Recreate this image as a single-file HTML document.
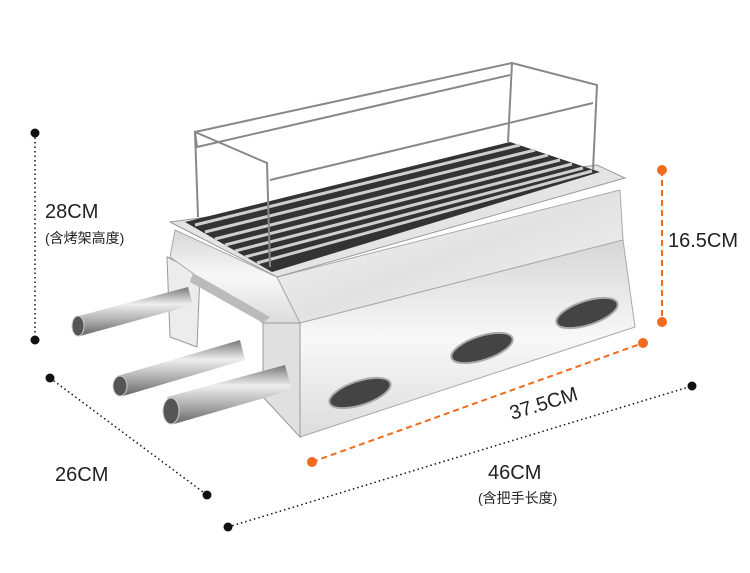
<!DOCTYPE html>
<html><head><meta charset="utf-8"><style>
body{margin:0;background:#fff;width:750px;height:568px;overflow:hidden;font-family:"Liberation Sans","Noto Sans CJK SC",sans-serif}
</style></head><body>
<svg width="750" height="568" viewBox="0 0 750 568" xmlns="http://www.w3.org/2000/svg">
<defs>
<linearGradient id="m" x1="0" y1="0" x2="1" y2="1"><stop offset="0" stop-color="#f8f8f8"/><stop offset=".5" stop-color="#e2e2e2"/><stop offset="1" stop-color="#f6f6f6"/></linearGradient>
<linearGradient id="m2" x1="0" y1="0" x2="0" y2="1"><stop offset="0" stop-color="#d6d6d6"/><stop offset=".5" stop-color="#f8f8f8"/><stop offset="1" stop-color="#dcdcdc"/></linearGradient>
<linearGradient id="t" x1="0" y1="0" x2="0" y2="1"><stop offset="0" stop-color="#777"/><stop offset=".35" stop-color="#eee"/><stop offset=".7" stop-color="#aaa"/><stop offset="1" stop-color="#666"/></linearGradient>
</defs>
<g stroke="#111" stroke-width="1.5" stroke-dasharray="1.5 3" fill="none">
<line x1="35" y1="133" x2="35" y2="340"/>
<line x1="50" y1="378" x2="207" y2="495"/>
<line x1="228" y1="527" x2="692" y2="386"/>
</g>
<g fill="#111"><circle cx="35" cy="133" r="4.5"/><circle cx="35" cy="340" r="4.5"/><circle cx="50" cy="378" r="4.5"/><circle cx="207" cy="495" r="4.5"/><circle cx="228" cy="527" r="4.5"/><circle cx="692" cy="386" r="4.5"/></g>
<g stroke="#f26b1d" stroke-width="2" stroke-dasharray="6 4" fill="none">
<line x1="662" y1="170" x2="662" y2="322"/>
<line x1="312" y1="462" x2="643" y2="343"/>
</g>
<g fill="#f26b1d"><circle cx="662" cy="170" r="5"/><circle cx="662" cy="322" r="5"/><circle cx="312" cy="462" r="5"/><circle cx="643" cy="343" r="5"/></g>
<polygon points="167,257 200,273 197,347 170,337" fill="#ececec" stroke="#999"/>
<polygon points="175,230 277,277 300,323 263,323 170,257" fill="url(#m2)" stroke="#aaa"/>
<polygon points="277,277 620,190 623,240 300,323" fill="url(#m)" stroke="#aaa"/>
<polygon points="300,323 623,240 635,327 300,437" fill="url(#m2)" stroke="#aaa"/>
<polygon points="263,323 300,323 300,437 263,397" fill="#e0e0e0" stroke="#999"/>
<polygon points="193,273 270,317 263,323 190,282" fill="#bbb"/>
<polygon points="170,222 597,165 625,178 277,277" fill="#e4e4e4" stroke="#999"/>
<polygon points="185,222 510,142 600,172 272,272" fill="#333"/>
<g stroke="#cfcfcf" stroke-width="3">
<line x1="195" y1="225" x2="520" y2="145"/><line x1="205" y1="232" x2="535" y2="150"/><line x1="215" y1="239" x2="548" y2="155"/><line x1="225" y1="245" x2="560" y2="160"/><line x1="235" y1="251" x2="572" y2="164"/><line x1="245" y1="257" x2="583" y2="168"/><line x1="257" y1="263" x2="592" y2="171"/>
</g>
<g stroke="#888" stroke-width="2" fill="none">
<polyline points="198,217 195,132 267,163 270,267"/>
<polyline points="195,132 197,147 510,75"/>
<polyline points="508,142 512,63 597,85 593,170"/>
<line x1="270" y1="180" x2="593" y2="103"/>
<line x1="195" y1="132" x2="512" y2="63"/>
</g>
<g fill="#444" stroke="#aaa" stroke-width="2">
<ellipse cx="360" cy="393" rx="32" ry="12" transform="rotate(-18 360 393)"/>
<ellipse cx="482" cy="348" rx="32" ry="12" transform="rotate(-18 482 348)"/>
<ellipse cx="587" cy="313" rx="32" ry="12" transform="rotate(-18 587 313)"/>
</g>
<g>
<polygon points="75,317 188,287 193,305 80,336" fill="url(#t)"/>
<ellipse cx="78" cy="326" rx="6" ry="10" fill="#555" stroke="#ccc"/>
<polygon points="117,376 240,340 245,360 123,396" fill="url(#t)"/>
<ellipse cx="120" cy="386" rx="7" ry="10" fill="#555" stroke="#ccc"/>
<polygon points="167,397 285,365 292,390 174,424" fill="url(#t)"/>
<ellipse cx="171" cy="411" rx="8" ry="13" fill="#555" stroke="#ccc"/>
</g>
<g fill="#222">
<text x="45" y="218" font-size="20">28CM</text>
<text x="45" y="243" font-size="14">(含烤架高度)</text>
<text x="668" y="247" font-size="20">16.5CM</text>
<text x="0" y="0" font-size="20" transform="translate(512 420) rotate(-17)">37.5CM</text>
<text x="55" y="481" font-size="20">26CM</text>
<text x="488" y="479" font-size="20">46CM</text>
<text x="478" y="503" font-size="14">(含把手长度)</text>
</g>
</svg>
</body></html>
